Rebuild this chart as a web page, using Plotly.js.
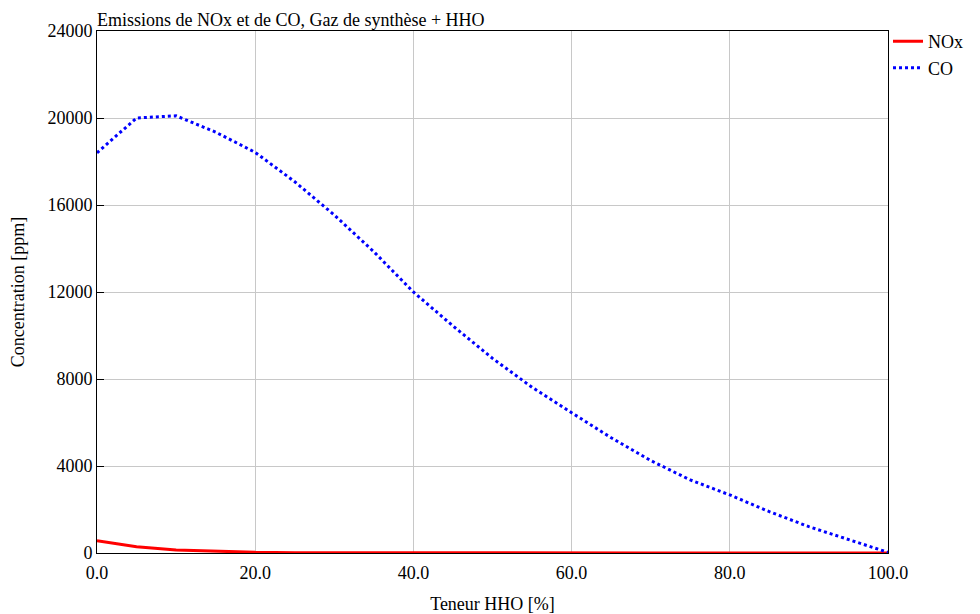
<!DOCTYPE html>
<html><head><meta charset="utf-8">
<script src="https://cdn.plot.ly/plotly-3.0.1.min.js"></script>
<style>html,body{margin:0;padding:0;background:#fff}</style>
</head><body>
<div id="chart" style="width:980px;height:614px"></div>
<script>
const hho = [0,5,10,15,20,25,30,35,40,45,50,55,60,65,70,75,80,85,90,95,100];
const nox = [560,290,140,70,30,15,10,5,0,0,0,0,0,0,0,0,0,0,0,0,0];
const co  = [18400,20000,20100,19350,18420,17070,15540,13850,12000,10440,8950,7620,6450,5300,4250,3360,2670,1900,1210,630,30];
const xTicks = [0,20,40,60,80,100];
const xTickText = ["0.0","20.0","40.0","60.0","80.0","100.0"];
const yTicks = [0,4000,8000,12000,16000,20000,24000];
const yTickText = ["0","4000","8000","12000","16000","20000","24000"];

const font = {family:"Liberation Serif, Times New Roman, serif", size:18, color:"#000"};
const traces = [
  {x:hho, y:nox, name:"NOx", mode:"lines", line:{color:"#ff0000", width:3}},
  {x:hho, y:co, name:"CO", mode:"lines", line:{color:"#0000ff", width:3, dash:"dot"}}
];
const layout = {
  width:980, height:614,
  margin:{l:97, r:92, t:31, b:61},
  paper_bgcolor:"#fff", plot_bgcolor:"#fff",
  font:font,
  showlegend:true,
  title:{text:"Emissions de NOx et de CO, Gaz de synthèse + HHO", x:97/980, xanchor:"left", y:1-20/614, yanchor:"middle", font:font},
  legend:{x:1.0, xanchor:"left", y:1.015, yanchor:"top", font:font, bgcolor:"rgba(0,0,0,0)", tracegroupgap:0},
  xaxis:{range:[0,100], tickvals:xTicks, ticktext:xTickText, showgrid:true, gridcolor:"#c8c8c8", gridwidth:1,
         showline:true, linecolor:"#000", linewidth:1, mirror:true, ticks:"", zeroline:false, ticklabelstandoff:3,
         title:{text:"Teneur HHO [%]", font:font, standoff:18}, tickfont:font},
  yaxis:{range:[0,24000], tickvals:yTicks, ticktext:yTickText, showgrid:true, gridcolor:"#c8c8c8", gridwidth:1,
         showline:true, linecolor:"#000", linewidth:1, mirror:true, ticks:"inside", ticklen:7, tickcolor:"#000", zeroline:false,
         title:{text:"Concentration [ppm]", font:font, standoff:18}, tickfont:font}
};
Plotly.newPlot("chart", traces, layout, {displayModeBar:false, staticPlot:true});
</script>
</body></html>
